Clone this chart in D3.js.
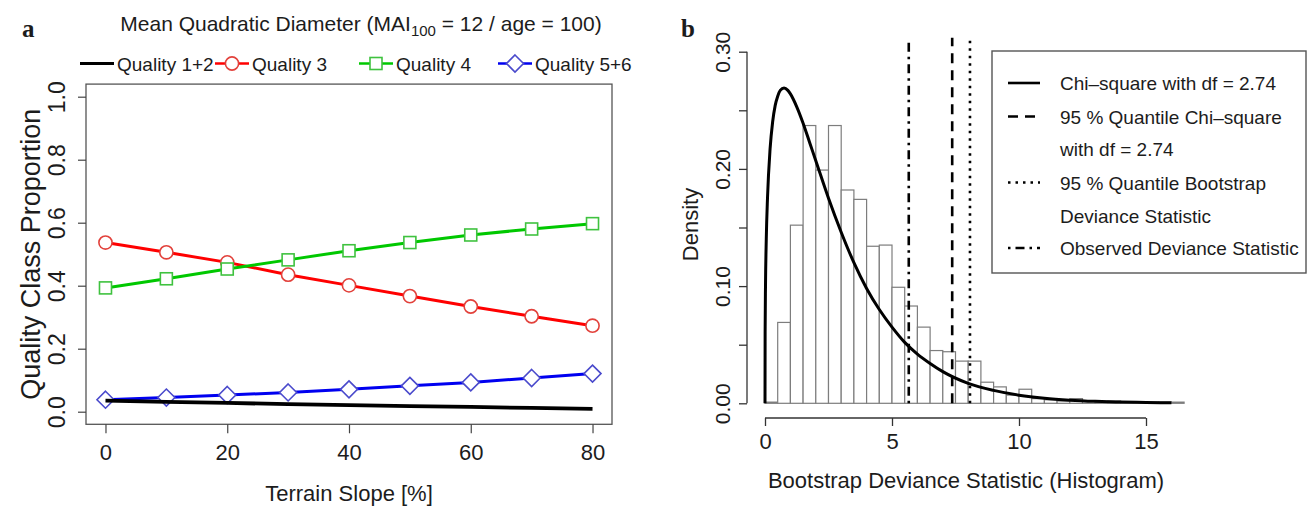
<!DOCTYPE html>
<html>
<head>
<meta charset="utf-8">
<script src="https://cdn.jsdelivr.net/npm/d3@7"></script>
<style>
  body { margin: 0; background: #fff; }
  svg text { font-family: "Liberation Sans", Arial, Helvetica, sans-serif; fill: #1c1c1c; }
</style>
</head>
<body>
<svg id="chart" width="1310" height="507"></svg>
<script>
// ---- panel a: quality class proportions vs terrain slope
const slope = [0, 10, 20, 30, 40, 50, 60, 70, 80];
const quality12 = [0.035, 0.031, 0.028, 0.024, 0.021, 0.018, 0.015, 0.012, 0.009];
const quality3 = [0.537, 0.506, 0.474, 0.435, 0.401, 0.367, 0.334, 0.303, 0.273];
const quality4 = [0.393, 0.422, 0.453, 0.482, 0.511, 0.537, 0.561, 0.580, 0.597];
const quality56 = [0.038, 0.045, 0.053, 0.061, 0.071, 0.082, 0.093, 0.107, 0.121];
const seriesNames = ["Quality 1+2", "Quality 3", "Quality 4", "Quality 5+6"];
const slopeTicks = [0, 20, 40, 60, 80];
const propTicks = [0, 0.2, 0.4, 0.6, 0.8, 1.0];

// ---- panel b: bootstrap deviance histogram (bin starts, width 0.5)
const binStart = [0, 0.5, 1, 1.5, 2, 2.5, 3, 3.5, 4, 4.5, 5, 5.5, 6, 6.5, 7, 7.5, 8, 8.5,
  9, 9.5, 10, 10.5, 11, 11.5, 12, 12.5, 13, 13.5, 14, 14.5, 15, 15.5, 16];
const binDensity = [0.001, 0.069, 0.152, 0.237, 0.199, 0.237, 0.182, 0.174, 0.134, 0.135,
  0.099, 0.083, 0.065, 0.045, 0.044, 0.036, 0.036, 0.018, 0.014, 0.007, 0.012, 0.004,
  0.003, 0.002, 0.004, 0.002, 0.001, 0.002, 0.001, 0.001, 0.001, 0.001, 0.001];
const chiX = [0, 0.005, 0.02, 0.05, 0.1, 0.2, 0.3, 0.4, 0.5, 0.6, 0.75, 0.9, 1, 1.25, 1.5,
  1.75, 2, 2.5, 3, 3.5, 4, 4.5, 5, 5.5, 6, 6.5, 7, 8, 9, 10, 11, 12, 13, 14, 15, 16];
const chiDensity = [0, 0.061, 0.101, 0.140, 0.176, 0.217, 0.240, 0.254, 0.262, 0.267, 0.269,
  0.267, 0.264, 0.253, 0.239, 0.223, 0.207, 0.175, 0.146, 0.120, 0.098, 0.080, 0.065, 0.052,
  0.042, 0.034, 0.027, 0.017, 0.011, 0.0069, 0.0043, 0.0027, 0.0017, 0.0011, 0.0007, 0.0004];
const observedStat = 5.66;
const quantileChi = 7.37;
const quantileBoot = 8.07;
const devTicks = [0, 5, 10, 15];
const densTicks = [0, 0.05, 0.1, 0.15, 0.2, 0.25, 0.3];
const densLabels = [0, 0.1, 0.2, 0.3];
const legendB = [
  { lines: ["Chi\u2013square with df = 2.74"], dash: null },
  { lines: ["95 % Quantile Chi\u2013square", "with df = 2.74"], dash: "10,7" },
  { lines: ["95 % Quantile Bootstrap", "Deviance Statistic"], dash: "2.5,5" },
  { lines: ["Observed Deviance Statistic"], dash: "2.5,5,9,5" }
];

const svg = d3.select("#chart");

// ================= panel a =================
const xA = d3.scaleLinear().domain([-3.2, 83.2]).range([86, 612]);
const yA = d3.scaleLinear().domain([-0.04, 1.04]).range([424.3, 84.1]);

svg.append("text").attr("x", 22).attr("y", 37)
  .style("font-family", "'Liberation Serif', 'DejaVu Serif', serif")
  .style("font-weight", "bold").style("font-size", "25px").text("a");

const title = svg.append("text").attr("x", 361).attr("y", 31)
  .attr("text-anchor", "middle").style("font-size", "21px");
title.append("tspan").text("Mean Quadratic Diameter (MAI");
title.append("tspan").attr("dy", 5).style("font-size", "15px").text("100");
title.append("tspan").attr("dy", -5).text(" = 12 / age = 100)");

const gA = svg.append("g");

gA.append("rect")
  .attr("x", xA.range()[0]).attr("y", yA.range()[1])
  .attr("width", xA.range()[1] - xA.range()[0])
  .attr("height", yA.range()[0] - yA.range()[1])
  .attr("fill", "none").attr("stroke", "#555").attr("stroke-width", 1.3);

const xAxisA = gA.append("g")
  .attr("transform", `translate(0,${yA.range()[0]})`)
  .call(d3.axisBottom(xA).tickValues(slopeTicks).tickSize(9).tickSizeOuter(0).tickPadding(4));
xAxisA.select(".domain").remove();
xAxisA.selectAll(".tick line").attr("stroke", "#444").attr("stroke-width", 1.2);
xAxisA.selectAll(".tick text").attr("y", 36).attr("dy", 0)
  .style("font-size", "22px").attr("fill", "#1c1c1c");

const yAxisA = gA.append("g")
  .attr("transform", `translate(${xA.range()[0]},0)`)
  .call(d3.axisLeft(yA).tickValues(propTicks).tickSize(8).tickSizeOuter(0).tickFormat(d3.format(".1f")));
yAxisA.select(".domain").remove();
yAxisA.selectAll(".tick line").attr("stroke", "#444").attr("stroke-width", 1.2);
yAxisA.selectAll(".tick text")
  .attr("x", 0).attr("y", 0).attr("dy", 0)
  .attr("transform", "translate(-21,0) rotate(-90)")
  .attr("text-anchor", "middle")
  .style("font-size", "23px").attr("fill", "#1c1c1c");

svg.append("text")
  .attr("transform", `translate(40,${(yA.range()[0] + yA.range()[1]) / 2}) rotate(-90)`)
  .attr("text-anchor", "middle").style("font-size", "27px")
  .text("Quality Class Proportion");

svg.append("text").attr("x", (xA.range()[0] + xA.range()[1]) / 2).attr("y", 501)
  .attr("text-anchor", "middle").style("font-size", "22px")
  .text("Terrain Slope [%]");

const seriesA = [
  { name: seriesNames[0], values: quality12, color: "#000", mark: "#000", shape: null, width: 3.8 },
  { name: seriesNames[1], values: quality3, color: "#f00", mark: "#e2413b", shape: "circle", width: 3 },
  { name: seriesNames[2], values: quality4, color: "#00c800", mark: "#3fc23f", shape: "square", width: 3 },
  { name: seriesNames[3], values: quality56, color: "#0000f0", mark: "#4a4acc", shape: "diamond", width: 3 }
];

const lineA = d3.line().x((d, i) => xA(slope[i])).y(d => yA(d));

function drawMarker(g, shape, cx, cy, color) {
  if (shape === "circle") {
    g.append("circle").attr("cx", cx).attr("cy", cy).attr("r", 6.6)
      .attr("fill", "#fff").attr("stroke", color).attr("stroke-width", 1.6);
  } else if (shape === "square") {
    g.append("rect").attr("x", cx - 6).attr("y", cy - 6).attr("width", 12).attr("height", 12)
      .attr("fill", "#fff").attr("stroke", color).attr("stroke-width", 1.6);
  } else if (shape === "diamond") {
    g.append("path").attr("d", `M${cx},${cy - 8.5}L${cx + 8.5},${cy}L${cx},${cy + 8.5}L${cx - 8.5},${cy}Z`)
      .attr("fill", "#fff").attr("stroke", color).attr("stroke-width", 1.6);
  }
}

// draw quality 5+6 and 1+2 first so the others sit on top like the original
[seriesA[3], seriesA[0], seriesA[1], seriesA[2]].forEach(s => {
  gA.append("path").datum(s.values)
    .attr("d", lineA)
    .attr("fill", "none").attr("stroke", s.color).attr("stroke-width", s.width)
    .attr("stroke-linejoin", "round");
  if (s.shape) {
    const mg = gA.append("g");
    s.values.forEach((v, i) => drawMarker(mg, s.shape, xA(slope[i]), yA(v), s.mark));
  }
});

// legend a (horizontal, above plot)
const legendAX = [80, 215, 359, 498];
const legendAY = 63.5;
seriesA.forEach((s, i) => {
  const x0 = legendAX[i];
  svg.append("line").attr("x1", x0).attr("x2", x0 + 34).attr("y1", legendAY).attr("y2", legendAY)
    .attr("stroke", s.color).attr("stroke-width", s.shape ? 2.6 : 3.2);
  if (s.shape) drawMarker(svg, s.shape, x0 + 17, legendAY, s.mark);
  svg.append("text").attr("x", x0 + 37).attr("y", legendAY + 7)
    .style("font-size", "19px").text(s.name);
});

// ================= panel b =================
const xB = d3.scaleLinear().domain([0, 15]).range([765, 1146]);
const yB = d3.scaleLinear().domain([0, 0.3]).range([403.3, 51.7]);
const axisXB = 747;     // left edge of plot region
const axisYB = 418;     // bottom edge of plot region
const topB = yB(0.312); // top edge of plot region

svg.append("text").attr("x", 681).attr("y", 37)
  .style("font-family", "'Liberation Serif', 'DejaVu Serif', serif")
  .style("font-weight", "bold").style("font-size", "25px").text("b");

const gB = svg.append("g");

gB.selectAll(".bar")
  .data(binStart.map((s, i) => ({ s, d: binDensity[i] })))
  .enter().append("rect")
  .attr("class", "bar")
  .attr("x", d => xB(d.s))
  .attr("y", d => yB(d.d))
  .attr("width", d => xB(d.s + 0.5) - xB(d.s))
  .attr("height", d => yB(0) - yB(d.d))
  .attr("fill", "#fff").attr("stroke", "#7d7d7d").attr("stroke-width", 1.2);

gB.append("path")
  .datum(chiX.map((x, i) => [x, chiDensity[i]]))
  .attr("d", d3.line().x(d => xB(d[0])).y(d => yB(d[1])).curve(d3.curveMonotoneX))
  .attr("fill", "none").attr("stroke", "#000").attr("stroke-width", 3);

[[observedStat, "2.5,5,9,5"], [quantileChi, "10,7"], [quantileBoot, "2.5,5"]].forEach(([v, dash]) => {
  gB.append("line")
    .attr("x1", xB(v)).attr("x2", xB(v))
    .attr("y1", yB(0)).attr("y2", topB)
    .attr("stroke", "#000").attr("stroke-width", 2.6).attr("stroke-dasharray", dash);
});

const xAxisB = gB.append("g")
  .attr("transform", `translate(0,${axisYB})`)
  .call(d3.axisBottom(xB).tickValues(devTicks).tickSize(8).tickSizeOuter(0));
xAxisB.select(".domain").attr("d", `M${xB(0)},0H${xB(15)}`).attr("stroke", "#333").attr("stroke-width", 1.3);
xAxisB.selectAll(".tick line").attr("stroke", "#333").attr("stroke-width", 1.3);
xAxisB.selectAll(".tick text").attr("y", 31).attr("dy", 0)
  .style("font-size", "22px").attr("fill", "#1c1c1c");

const yAxisB = gB.append("g")
  .attr("transform", `translate(${axisXB},0)`)
  .call(d3.axisLeft(yB).tickValues(densTicks).tickSize(8).tickSizeOuter(0)
    .tickFormat(d => densLabels.some(l => Math.abs(l - d) < 1e-9) ? d3.format(".2f")(d) : ""));
yAxisB.select(".domain").attr("d", `M0,${yB(0)}V${yB(0.3)}`).attr("stroke", "#333").attr("stroke-width", 1.3);
yAxisB.selectAll(".tick line").attr("stroke", "#333").attr("stroke-width", 1.3);
yAxisB.selectAll(".tick text")
  .attr("x", 0).attr("y", 0).attr("dy", 0)
  .attr("transform", "translate(-17,0) rotate(-90)")
  .attr("text-anchor", "middle")
  .style("font-size", "21px").attr("fill", "#1c1c1c");

svg.append("text")
  .attr("transform", `translate(698,${(yB(0) + topB) / 2 + 4}) rotate(-90)`)
  .attr("text-anchor", "middle").style("font-size", "22px")
  .text("Density");

svg.append("text").attr("x", 966).attr("y", 488)
  .attr("text-anchor", "middle").style("font-size", "22px")
  .text("Bootstrap Deviance Statistic (Histogram)");

// legend b
const lgB = svg.append("g");
lgB.append("rect").attr("x", 992).attr("y", 51).attr("width", 314).attr("height", 222)
  .attr("fill", "#fff").attr("stroke", "#555").attr("stroke-width", 1.4);
let row = 0;
const rowY = [83, 116.5, 149, 182.5, 215.5, 248];
legendB.forEach(item => {
  const y0 = rowY[row];
  lgB.append("line").attr("x1", 1008).attr("x2", 1040).attr("y1", y0).attr("y2", y0)
    .attr("stroke", "#000").attr("stroke-width", 2.6)
    .attr("stroke-dasharray", item.dash);
  item.lines.forEach(t => {
    lgB.append("text").attr("x", 1060).attr("y", rowY[row] + 7)
      .style("font-size", "19px").text(t);
    row++;
  });
});
</script>
</body>
</html>
